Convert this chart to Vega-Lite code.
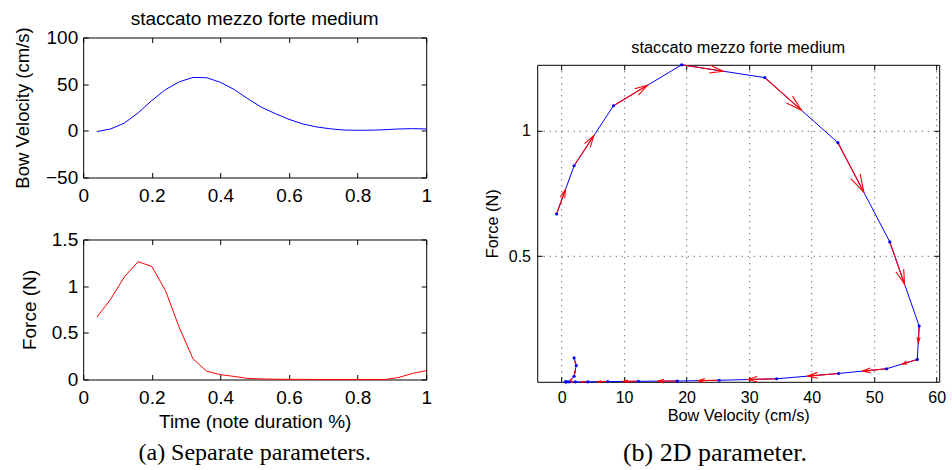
{
  "$schema": "https://vega.github.io/schema/vega-lite/v6.json",
  "background": "white",
  "padding": {"left": 13.2, "top": 9.5, "right": 5, "bottom": 2},
  "spacing": 52,
  "config": {
    "view": {"stroke": null},
    "font": "Liberation Sans",
    "axis": {"domainColor": "#000", "domainWidth": 1, "tickColor": "#000", "tickWidth": 1, "labelColor": "#000", "titleColor": "#000", "titleFontWeight": "normal", "grid": false, "tickSize": -5, "labelFont": "Liberation Sans", "titleFont": "Liberation Sans", "labelFlush": false, "labelOverlap": false, "minExtent": 0},
    "title": {"color": "#000", "fontWeight": "normal", "font": "Liberation Sans"}
  },
  "datasets": {
    "d": [
      {"t": 0.04, "vel": -0.8, "force": 0.668},
      {"t": 0.08, "vel": 2.0, "force": 0.86},
      {"t": 0.12, "vel": 8.3, "force": 1.099},
      {"t": 0.16, "vel": 19.2, "force": 1.262},
      {"t": 0.20, "vel": 32.5, "force": 1.211},
      {"t": 0.24, "vel": 44.2, "force": 0.952},
      {"t": 0.28, "vel": 52.5, "force": 0.557},
      {"t": 0.32, "vel": 57.2, "force": 0.222},
      {"t": 0.36, "vel": 56.9, "force": 0.089},
      {"t": 0.40, "vel": 52.0, "force": 0.052},
      {"t": 0.44, "vel": 44.3, "force": 0.033},
      {"t": 0.48, "vel": 34.4, "force": 0.012},
      {"t": 0.52, "vel": 25.2, "force": 0.006},
      {"t": 0.56, "vel": 18.5, "force": 0.003},
      {"t": 0.60, "vel": 12.3, "force": 0.002},
      {"t": 0.64, "vel": 7.4, "force": 0.001},
      {"t": 0.68, "vel": 4.2, "force": 0.0},
      {"t": 0.72, "vel": 2.2, "force": 0.0},
      {"t": 0.76, "vel": 0.85, "force": 0.0},
      {"t": 0.80, "vel": 0.6, "force": 0.0},
      {"t": 0.84, "vel": 0.7, "force": 0.0},
      {"t": 0.88, "vel": 1.2, "force": 0.0},
      {"t": 0.92, "vel": 2.0, "force": 0.022},
      {"t": 0.96, "vel": 2.35, "force": 0.065},
      {"t": 1.00, "vel": 2.0, "force": 0.095}
    ]
  },
  "hconcat": [
    {
      "spacing": 62,
      "bounds": "flush",
      "vconcat": [
        {
          "width": 343, "height": 140,
          "data": {"name": "d"},
          "title": {"text": "staccato mezzo forte medium", "fontSize": 19, "baseline": "alphabetic", "offset": -17, "anchor": "middle", "frame": "group"},
          "resolve": {"axis": {"x": "independent", "y": "independent"}},
          "layer": [
            {
              "mark": {"type": "line", "color": "#0000ff", "strokeWidth": 1},
              "encoding": {
                "x": {"field": "t", "type": "quantitative", "scale": {"domain": [0, 1], "nice": false, "zero": false},
                      "axis": {"orient": "bottom", "minExtent": 0, "values": [0, 0.2, 0.4, 0.6, 0.8, 1], "format": "~f", "labelFontSize": 19, "labelPadding": 13.6, "title": null}},
                "y": {"field": "vel", "type": "quantitative", "scale": {"domain": [-50, 100], "nice": false, "zero": false},
                      "axis": {"orient": "left", "minExtent": 0, "values": [-50, 0, 50, 100], "format": "~f", "labelFontSize": 19, "labelPadding": 10.5, "title": "Bow Velocity (cm/s)", "titleFontSize": 18.5, "titlePadding": 13}}
              }
            },
            {
              "mark": {"type": "line", "opacity": 0},
              "encoding": {
                "x": {"field": "t", "type": "quantitative", "scale": {"domain": [0, 1], "nice": false, "zero": false},
                      "axis": {"orient": "top", "minExtent": 0, "values": [0, 0.2, 0.4, 0.6, 0.8, 1], "labels": false, "title": null}},
                "y": {"field": "vel", "type": "quantitative", "scale": {"domain": [-50, 100], "nice": false, "zero": false},
                      "axis": {"orient": "right", "minExtent": 0, "values": [-50, 0, 50, 100], "labels": false, "title": null}}
              }
            }
          ]
        },
        {
          "width": 343, "height": 140,
          "data": {"name": "d"},
          "title": {"text": "(a) Separate parameters.", "orient": "bottom", "font": "Liberation Serif", "fontSize": 24, "offset": 10, "anchor": "middle", "frame": "group"},
          "resolve": {"axis": {"x": "independent", "y": "independent"}},
          "layer": [
            {
              "mark": {"type": "line", "color": "#ff0000", "strokeWidth": 1},
              "encoding": {
                "x": {"field": "t", "type": "quantitative", "scale": {"domain": [0, 1], "nice": false, "zero": false},
                      "axis": {"orient": "bottom", "minExtent": 0, "values": [0, 0.2, 0.4, 0.6, 0.8, 1], "format": "~f", "labelFontSize": 19, "labelPadding": 13.6, "title": "Time (note duration %)", "titleFontSize": 19, "titlePadding": 5}},
                "y": {"field": "force", "type": "quantitative", "scale": {"domain": [0, 1.5], "nice": false, "zero": false},
                      "axis": {"orient": "left", "minExtent": 0, "values": [0, 0.5, 1, 1.5], "format": "~f", "labelFontSize": 19, "labelPadding": 10.5, "title": "Force (N)", "titleFontSize": 19, "titlePadding": 12}}
              }
            },
            {
              "mark": {"type": "line", "opacity": 0},
              "encoding": {
                "x": {"field": "t", "type": "quantitative", "scale": {"domain": [0, 1], "nice": false, "zero": false},
                      "axis": {"orient": "top", "minExtent": 0, "values": [0, 0.2, 0.4, 0.6, 0.8, 1], "labels": false, "title": null}},
                "y": {"field": "force", "type": "quantitative", "scale": {"domain": [0, 1.5], "nice": false, "zero": false},
                      "axis": {"orient": "right", "minExtent": 0, "values": [0, 0.5, 1, 1.5], "labels": false, "title": null}}
              }
            }
          ]
        }
      ]
    },
    {
      "spacing": 26.3,
      "bounds": "flush",
      "title": {"text": "(b) 2D parameter.", "orient": "bottom", "font": "Liberation Serif", "fontSize": 26, "offset": 16.9, "anchor": "middle", "frame": "bounds"},
      "vconcat": [
        {
          "width": 402, "height": 1,
          "data": {"values": [{"k": 1}]},
          "mark": {"type": "point", "opacity": 0}
        },
        {
          "width": 402, "height": 317,
          "data": {"name": "d"},
          "title": {"text": "staccato mezzo forte medium", "fontSize": 16.4, "baseline": "alphabetic", "offset": -7, "anchor": "middle", "frame": "group"},
          "resolve": {"axis": {"x": "independent", "y": "independent"}},
          "layer": [
            {
              "mark": {"type": "line", "color": "#0000ff", "strokeWidth": 1},
              "encoding": {
                "x": {"field": "vel", "type": "quantitative", "scale": {"domain": [-3.9, 60.4], "nice": false, "zero": false},
                      "axis": {"orient": "bottom", "minExtent": 0, "values": [0, 10, 20, 30, 40, 50, 60], "format": "~f", "labelFontSize": 16, "labelPadding": 12.3, "title": "Bow Velocity (cm/s)", "titleFontSize": 16.3, "titlePadding": 2.2,
                               "grid": true, "gridColor": "#000", "gridDash": [1, 5], "gridWidth": 1, "gridOpacity": 0.8}},
                "y": {"field": "force", "type": "quantitative", "scale": {"domain": [0, 1.262], "nice": false, "zero": false},
                      "axis": {"orient": "left", "minExtent": 0, "values": [0.5, 1], "format": "~f", "labelFontSize": 16, "labelPadding": 11.7, "title": "Force (N)", "titleFontSize": 16.3, "titlePadding": 8,
                               "grid": true, "gridColor": "#000", "gridDash": [1, 5], "gridWidth": 1, "gridOpacity": 0.8}},
                "order": {"field": "t"}
              }
            },
            {
              "mark": {"type": "line", "opacity": 0},
              "encoding": {
                "x": {"field": "vel", "type": "quantitative", "scale": {"domain": [-3.9, 60.4], "nice": false, "zero": false},
                      "axis": {"orient": "top", "minExtent": 0, "values": [0, 10, 20, 30, 40, 50, 60], "labels": false, "title": null}},
                "y": {"field": "force", "type": "quantitative", "scale": {"domain": [0, 1.262], "nice": false, "zero": false},
                      "axis": {"orient": "right", "minExtent": 0, "values": [0.5, 1], "labels": false, "title": null}},
                "order": {"field": "t"}
              }
            },
            {
              "transform": [
                {"window": [{"op": "lead", "field": "vel", "as": "vn"}, {"op": "lead", "field": "force", "as": "fn"}], "sort": [{"field": "t"}]},
                {"filter": "datum.vn != null"},
                {"calculate": "(datum.vel + datum.vn) / 2", "as": "vm"},
                {"calculate": "(datum.force + datum.fn) / 2", "as": "fm"}
              ],
              "mark": {"type": "rule", "color": "#ff0000", "strokeWidth": 1.1},
              "encoding": {
                "x": {"field": "vel", "type": "quantitative", "axis": null},
                "y": {"field": "force", "type": "quantitative", "axis": null},
                "x2": {"field": "vm"},
                "y2": {"field": "fm"}
              }
            },
            {
              "transform": [
                {"window": [{"op": "lead", "field": "vel", "as": "vn"}, {"op": "lead", "field": "force", "as": "fn"}], "sort": [{"field": "t"}]},
                {"filter": "datum.vn != null"},
                {"calculate": "(datum.vel + datum.vn) / 2", "as": "vm"},
                {"calculate": "(datum.force + datum.fn) / 2", "as": "fm"},
                {"calculate": "(datum.vn - datum.vel) * 6.252 / 2", "as": "dxp"},
                {"calculate": "-(datum.fn - datum.force) * 251.2 / 2", "as": "dyp"},
                {"calculate": "atan2(datum.dyp, datum.dxp) * 180 / PI", "as": "ang"},
                {"calculate": "0.42 * (datum.dxp * datum.dxp + datum.dyp * datum.dyp)", "as": "hs"}
              ],
              "mark": {"type": "point", "shape": "M-1,-0.29L0,0L-1,0.29", "filled": false, "color": "#ff0000", "strokeWidth": 1.1, "opacity": 1},
              "encoding": {
                "x": {"field": "vm", "type": "quantitative", "axis": null},
                "y": {"field": "fm", "type": "quantitative", "axis": null},
                "angle": {"field": "ang", "type": "quantitative", "scale": null},
                "size": {"field": "hs", "type": "quantitative", "scale": null}
              }
            },
            {
              "mark": {"type": "point", "filled": true, "color": "#0000ff", "size": 10, "opacity": 1},
              "encoding": {
                "x": {"field": "vel", "type": "quantitative", "axis": null},
                "y": {"field": "force", "type": "quantitative", "axis": null}
              }
            }
          ]
        }
      ]
    }
  ]
}
